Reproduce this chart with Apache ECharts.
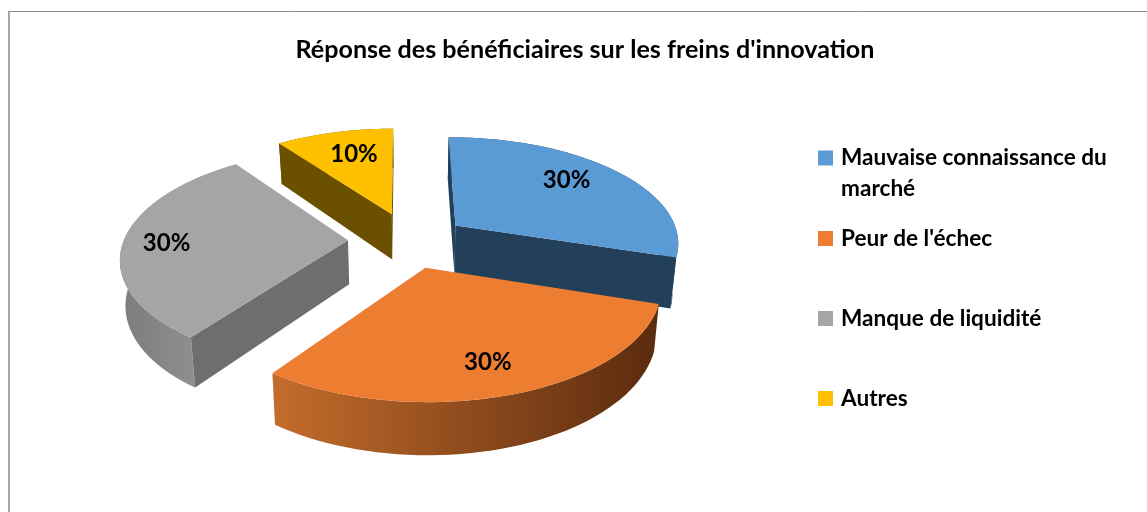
<!DOCTYPE html>
<html><head><meta charset="utf-8">
<style>html,body{margin:0;padding:0;background:#fff}#c{width:1147px;height:512px}</style>
<script src="https://cdn.jsdelivr.net/npm/echarts@6/dist/echarts.min.js"></script>
</head><body><div id="c"></div>
<script>
var categories = ['Mauvaise connaissance du marché', "Peur de l'échec", 'Manque de liquidité', 'Autres'];
var values = [30, 30, 30, 10];
var titleText = "Réponse des bénéficiaires sur les freins d'innovation";

// colours and layout of the 3D pie, separate from the data
var topColors = ['#5b9bd5', '#ed7d31', '#a5a5a5', '#ffc000'];
var wallLeft = ['#23405a', '#c46c2c', '#7c7c7c', '#6b5000'];
var wallRight = ['#23405a', '#5a2b0e', '#9a9a9a', '#6b5000'];
var faceColors = ['#23405a', '#7a3f18', '#6e6e6e', '#6b5000'];
var labelRadius = [0.7, 0.76, 0.84, 0.72];
var labelShift = [[-3, -6], [-2, 2], [7, 3], [5, 1]];
var sliceShift = [[-2, 4], [-4, 0], [-2, 0], [0, 0]];
var sliceDepth = [1.08, 0.94, 0.96, 1.02];
var P = {cx: 410, cy: 240, R: 224, tilt: 0.47, persp: 0.148, depth: 46, shrink: 0.02, explode: 60, startDeg: -90.3};

var total = values.reduce(function (a, b) { return a + b; }, 0);
var FONT = 'Lato, Carlito, sans-serif';

function project(X, Y, z) {
  var s = 1 / (1 - P.persp * Y / P.R);
  return [P.cx + X * s * (1 - P.shrink * z), P.cy + Y * P.tilt * s + P.depth * z * s];
}
function signedArea(pts) {
  var a = 0;
  for (var i = 0; i < pts.length; i++) {
    var p = pts[i], q = pts[(i + 1) % pts.length];
    a += p[0] * q[1] - q[0] * p[1];
  }
  return a / 2;
}
function makeRender(idx) {
  return function (params, api) {
    var v = api.value(0);
    var before = values.slice(0, idx).reduce(function (a, b) { return a + b; }, 0);
    var a0 = (P.startDeg + before / total * 360) * Math.PI / 180;
    var a1 = a0 + v / total * 2 * Math.PI;
    var mid = (a0 + a1) / 2;
    var ox = P.explode * Math.cos(mid) + sliceShift[idx][0], oy = P.explode * Math.sin(mid) + sliceShift[idx][1];
    var d = sliceDepth[idx];
    var n = 48, rimT = [], rimB = [];
    for (var i = 0; i <= n; i++) {
      var t = a0 + (a1 - a0) * i / n;
      var X = ox + P.R * Math.cos(t), Y = oy + P.R * Math.sin(t);
      rimT.push(project(X, Y, 0));
      rimB.push(project(X, Y, d));
    }
    var apexT = project(ox, oy, 0), apexB = project(ox, oy, d);
    var kids = [];
    var wall = rimT.concat(rimB.slice().reverse());
    kids.push({type: 'polygon', shape: {points: wall}, style: {fill: new echarts.graphic.LinearGradient(0, 0, 1, 0, [
      {offset: 0, color: wallLeft[idx]}, {offset: 1, color: wallRight[idx]}])}});
    // cut faces, drawn only when they turn towards the viewer
    var startFace = [apexT, rimT[0], rimB[0], apexB];
    var endFace = [rimT[n], apexT, apexB, rimB[n]];
    [startFace, endFace].forEach(function (f) {
      if (signedArea(f) < 0) kids.push({type: 'polygon', shape: {points: f}, style: {fill: faceColors[idx]}});
    });
    kids.push({type: 'polygon', shape: {points: [apexT].concat(rimT)}, style: {fill: topColors[idx]}});
    var lr = labelRadius[idx] * P.R;
    var lp = project(ox + lr * Math.cos(mid), oy + lr * Math.sin(mid), 0);
    kids.push({type: 'text', style: {text: v + '%', x: lp[0] + labelShift[idx][0], y: lp[1] + labelShift[idx][1],
      align: 'center', verticalAlign: 'middle', font: 'bold 24px ' + FONT, fill: '#000'}});
    return {type: 'group', children: kids};
  };
}

var legendCenters = [156.5, 237, 317, 397];
var option = {
  animation: false,
  backgroundColor: '#fff',
  title: {text: titleText, left: 580, top: 32, textAlign: 'center',
    textStyle: {fontFamily: FONT, fontWeight: 'bold', fontSize: 25.1, color: '#000'}},
  legend: categories.map(function (c, i) {
    var two = i === 0, lh = 31;
    return {
      data: [c], left: 818, top: two ? legendCenters[i] - lh * 1.5 - 1 : legendCenters[i] - 14,
      orient: 'vertical', icon: 'rect', itemWidth: 15, itemHeight: 15, selectedMode: false,
      padding: 0,
      formatter: two ? function () { return ' \nMauvaise connaissance du\nmarché'; } : undefined,
      textStyle: {fontFamily: FONT, fontWeight: 'bold', fontSize: 22.6, color: '#000', lineHeight: two ? lh : 26, padding: [5, 0, 0, 3]}
    };
  }),
  graphic: [
    {type: 'line', silent: true, shape: {x1: 9, y1: 11.5, x2: 1147, y2: 11.5}, style: {stroke: '#8c8c8c', lineWidth: 1}},
    {type: 'line', silent: true, shape: {x1: 9, y1: 11, x2: 9, y2: 512}, style: {stroke: '#a6a6a6', lineWidth: 2}}
  ],
  series: categories.map(function (c, i) {
    return {type: 'custom', name: c, coordinateSystem: 'none', silent: true,
      itemStyle: {color: topColors[i]}, data: [[values[i]]], renderItem: makeRender(i)};
  })
};
var chart = echarts.init(document.getElementById('c'), null, {renderer: 'canvas'});
chart.setOption(option);
</script></body></html>
